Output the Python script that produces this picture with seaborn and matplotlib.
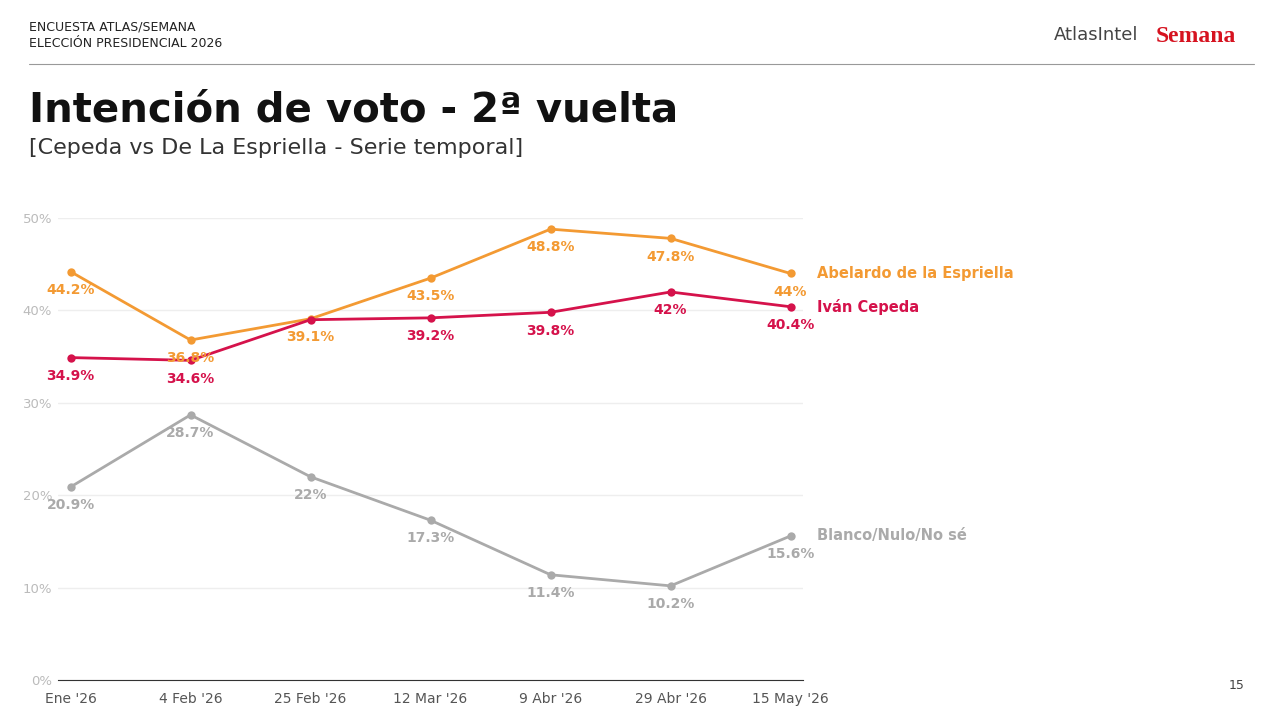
import seaborn as sns
import matplotlib.pyplot as plt
import pandas as pd

fechas = ["Ene '26", "4 Feb '26", "25 Feb '26", "12 Mar '26", "9 Abr '26", "29 Abr '26", "15 May '26"]
abelardo = [44.2, 36.8, 39.1, 43.5, 48.8, 47.8, 44.0]
cepeda = [34.9, 34.6, 39.0, 39.2, 39.8, 42.0, 40.4]
blanco = [20.9, 28.7, 22.0, 17.3, 11.4, 10.2, 15.6]
etq_abelardo = ["44.2%", "36.8%", "39.1%", "43.5%", "48.8%", "47.8%", "44%"]
etq_cepeda = ["34.9%", "34.6%", "", "39.2%", "39.8%", "42%", "40.4%"]
etq_blanco = ["20.9%", "28.7%", "22%", "17.3%", "11.4%", "10.2%", "15.6%"]

series = [
    ("Abelardo de la Espriella", abelardo, etq_abelardo, "#F39A33"),
    ("Iván Cepeda", cepeda, etq_cepeda, "#D5124B"),
    ("Blanco/Nulo/No sé", blanco, etq_blanco, "#AAAAAA"),
]

rows = []
for name, vals, _, _ in series:
    for i, v in enumerate(vals):
        rows.append({"x": i, "v": v, "serie": name})
df = pd.DataFrame(rows)

sns.set_style("white")
plt.rcParams['font.family'] = ['DejaVu Sans']
fig = plt.figure(figsize=(12.8, 7.22), dpi=100)
ax = fig.add_axes([0.045, 0.058, 0.582, 0.64])

palette = {n: c for n, _, _, c in series}
sns.lineplot(data=df, x="x", y="v", hue="serie", palette=palette, marker="o",
             markersize=6, markeredgewidth=0, linewidth=2, legend=False, ax=ax)

for name, vals, etqs, c in series:
    for i, (v, t) in enumerate(zip(vals, etqs)):
        if t:
            ax.annotate(t, (i, v), xytext=(0, -16), textcoords="offset points",
                        ha="center", color=c, fontsize=10, fontweight="bold")
    ax.text(6.22, vals[-1], name, color=c, fontsize=10.5, fontweight="bold", va="center")

ax.set_xlim(-0.108, 6.1)
ax.set_ylim(0, 50)
ax.set_yticks([0, 10, 20, 30, 40, 50])
ax.set_yticklabels([f"{t}%" for t in range(0, 60, 10)], color="#BBBBBB", fontsize=9.5)
ax.set_xticks(range(7))
ax.set_xticklabels(fechas, color="#555555", fontsize=10)
ax.set_xlabel("")
ax.set_ylabel("")
ax.grid(axis="y", color="#EEEEEE", linewidth=1)
for s in ["top", "right", "left"]:
    ax.spines[s].set_visible(False)
ax.spines["bottom"].set_color("#333333")
ax.tick_params(axis="x", length=5, color="#333333")
ax.tick_params(axis="y", length=0, pad=4)

fig.text(0.023, 0.958, "ENCUESTA ATLAS/SEMANA", fontsize=9, color="#222222")
fig.text(0.023, 0.935, "ELECCIÓN PRESIDENCIAL 2026", fontsize=9, color="#222222")
fig.add_artist(plt.Line2D([0.023, 0.98], [0.912, 0.912], color="#999999", linewidth=0.8))
fig.text(0.023, 0.832, "Intención de voto - 2ª vuelta", fontsize=29, fontweight="bold", color="#111111")
fig.text(0.023, 0.787, "[Cepeda vs De La Espriella - Serie temporal]", fontsize=16, color="#333333")
fig.text(0.823, 0.944, "AtlasIntel", fontsize=13, color="#444444")
fig.text(0.903, 0.942, "Semana", fontsize=17, fontweight="bold", color="#D6121F", family="Liberation Serif")
fig.text(0.972, 0.046, "15", fontsize=9, color="#444444", ha="right")

fig.savefig("out.png", dpi=100)
